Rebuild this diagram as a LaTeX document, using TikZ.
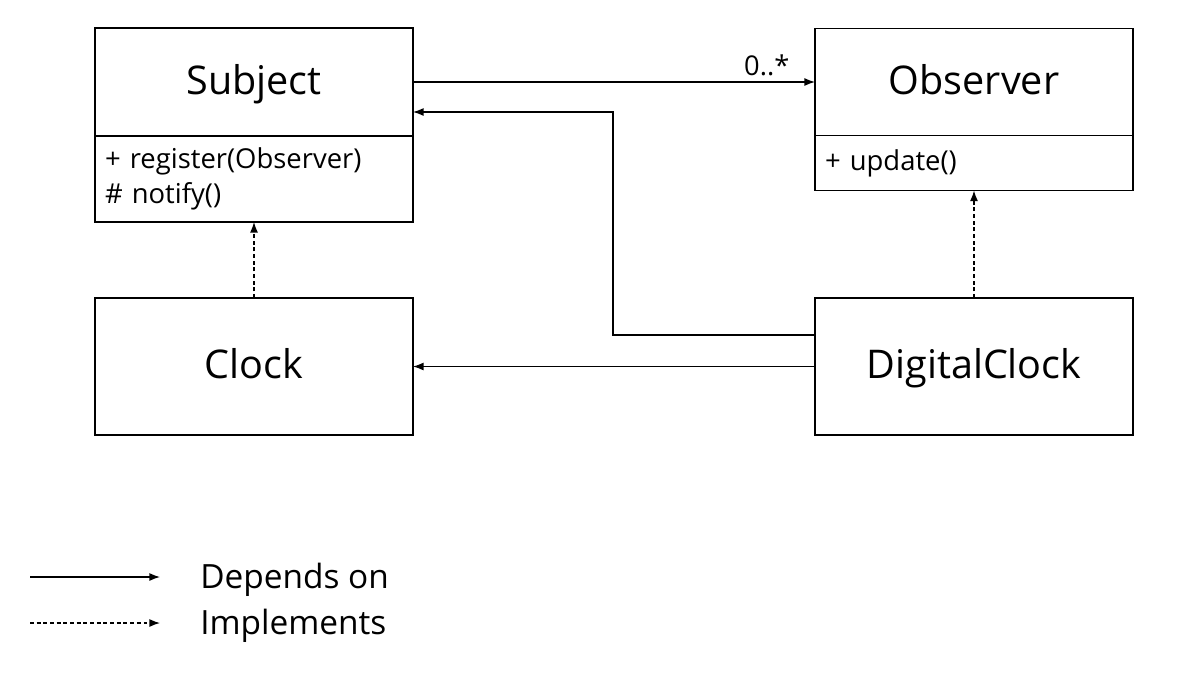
\documentclass[tikz,border=0pt]{standalone}
\usepackage{fontspec}
\setmainfont{Open Sans}
\usetikzlibrary{positioning,arrows.meta}
\tikzset{
	classname/.style = {
		draw, line width=0.7pt, rectangle, minimum width=6.36cm, inner sep=0pt, outer sep=0pt, text height=0.64cm, text depth=0.16cm, font=\fontsize{22.5}{27}\selectfont
	}
}
\tikzset{
	classops/.style = {
		draw, line width=0.7pt, rectangle, minimum width=6.36cm, text width=5.96cm, inner xsep=0.2cm, inner ysep=0pt, outer sep=0pt, align=left, font=\fontsize{15.6}{20}\selectfont
	}
}
\tikzset{
	depends/.style = {
		line width=0.7pt, -{Latex[length=6pt,width=4.5pt]}
	}
}
\tikzset{
	implements/.style = {
		depends, dash pattern=on 2.2pt off 1.6pt
	}
}
\begin{document}
\begin{tikzpicture}
	\useasboundingbox (0,0) rectangle (24.08,-13.44);
	\node[classname, minimum height=2.16cm](Subject) at (5.08,-1.64){Subject};
	\node[classops, minimum height=1.72cm, below=0pt of Subject](SubjectOps){+ register(Observer)\\\# notify()};
	\node[classname, minimum height=2.14cm, right=8.04cm of Subject](Observer){Observer};
	\node[classops, minimum height=1.1cm, below=0pt of Observer](ObserverOps){+ update()};
	\node[classname, minimum height=2.74cm, below=1.52cm of SubjectOps](Clock){Clock};
	\node[classname, minimum height=2.74cm, right=8.04cm of Clock](DigitalClock){DigitalClock};
	\draw[depends] (Subject) -- node[pos=0.88, above, font=\fontsize{15.5}{18}\selectfont]{0..*} (Observer);
	\draw[depends] ([yshift=0.63cm]DigitalClock.west) -- ++(-4.04cm,0) |- ([yshift=-0.6cm]Subject.east);
	\draw[depends] (DigitalClock) -- (Clock);
	\draw[implements] (Clock) -- (SubjectOps);
	\draw[implements] (DigitalClock) -- (ObserverOps);
	\coordinate (DependsFrom) at (0.6,-11.54);
	\coordinate (DependsTo) at (3.2,-11.54);
	\coordinate (ImplementsFrom) at (0.6,-12.46);
	\coordinate (ImplementsTo) at (3.2,-12.46);
	\draw[depends] (DependsFrom) -- (DependsTo);
	\draw[implements] (ImplementsFrom) -- (ImplementsTo);
	\node[anchor=west, inner sep=0pt, font=\fontsize{19}{23}\selectfont] (DependsText) at (4.0,-11.6){Depends on};
	\node[anchor=west, inner sep=0pt, font=\fontsize{19}{23}\selectfont] (ImplementsText) at (4.0,-12.52){Implements};
\end{tikzpicture}
\end{document}
